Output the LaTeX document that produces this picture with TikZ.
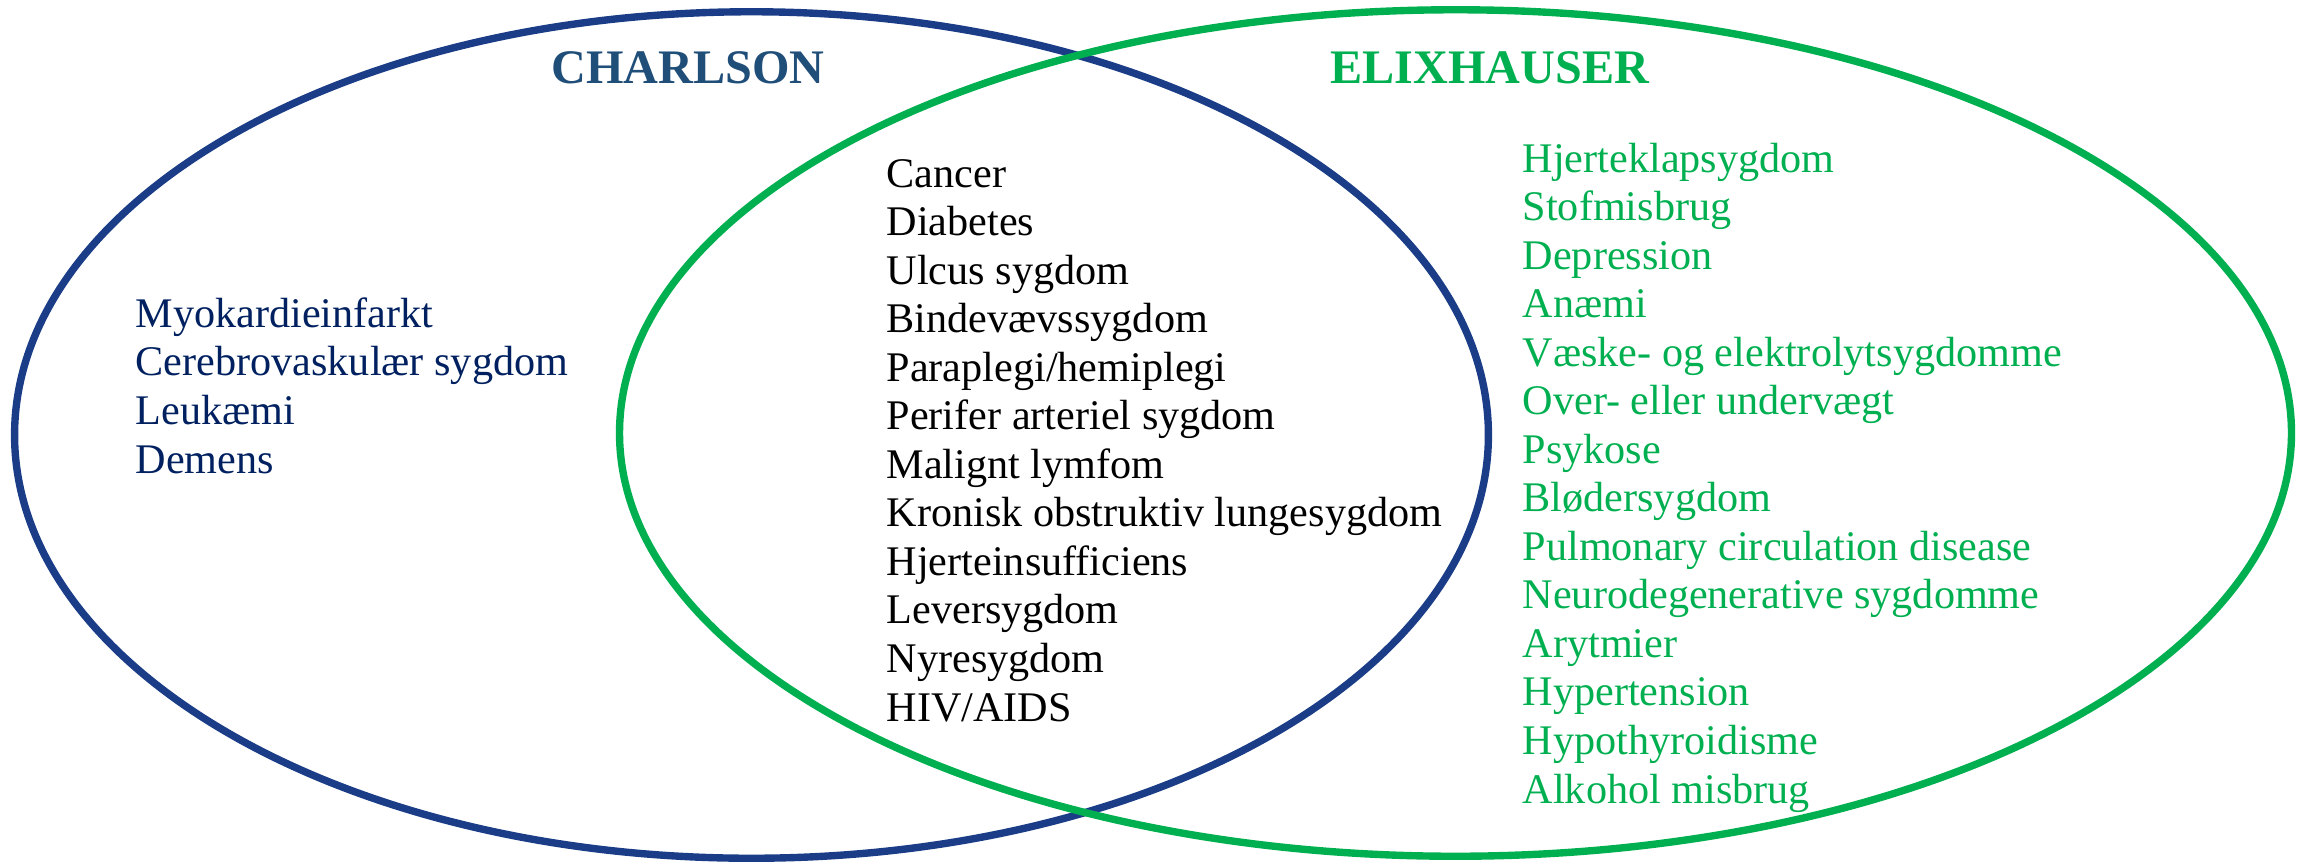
\documentclass[tikz,border=0pt]{standalone}
\usepackage{fontspec}
\setmainfont{Liberation Serif}
\usetikzlibrary{positioning}
\definecolor{charlblue}{RGB}{27,61,135}
\definecolor{charlhead}{RGB}{31,78,121}
\definecolor{charltext}{RGB}{0,32,96}
\definecolor{elixgreen}{RGB}{0,176,80}

\begin{document}
\begin{tikzpicture}[
  x=0.01cm, y=-0.01cm,
  ring/.style={line width=2.1pt},
  head/.style={font=\fontsize{13.7}{16}\selectfont\bfseries, inner sep=0pt, anchor=base west},
  list/.style={font=\fontsize{12}{13.8}\selectfont, align=left, inner sep=0pt, anchor=base west},
]
\useasboundingbox (0,0) rectangle (2305,863);
% the two sets
\draw[ring, charlblue] (751.5,435) ellipse [x radius=7.365cm, y radius=4.23cm];
\draw[ring, elixgreen] (1455.5,433) ellipse [x radius=8.355cm, y radius=4.23cm];
% titles
\node[head, text=charlhead] (charlson) at (551,83) {CHARLSON};
\node[head, text=elixgreen] (elixhauser) at (1330,83) {ELIXHAUSER};
% Charlson only (placed at baseline of last line)
\node[list, text=charltext] (charlonly) at (135,473) {Myokardieinfarkt\\Cerebrovaskulær sygdom\\Leukæmi\\Demens};
% both
\node[list, text=black] (both) at (886,721) {Cancer\\Diabetes\\Ulcus sygdom\\Bindevævssygdom\\Paraplegi/hemiplegi\\Perifer arteriel sygdom\\Malignt lymfom\\Kronisk obstruktiv lungesygdom\\Hjerteinsufficiens\\Leversygdom\\Nyresygdom\\HIV/AIDS};
% Elixhauser only
\node[list, text=elixgreen] (elixonly) at (1522,803) {Hjerteklapsygdom\\Stofmisbrug\\Depression\\Anæmi\\Væske- og elektrolytsygdomme\\Over- eller undervægt\\Psykose\\Blødersygdom\\Pulmonary circulation disease\\Neurodegenerative sygdomme\\Arytmier\\Hypertension\\Hypothyroidisme\\Alkohol misbrug};
\end{tikzpicture}
\end{document}
